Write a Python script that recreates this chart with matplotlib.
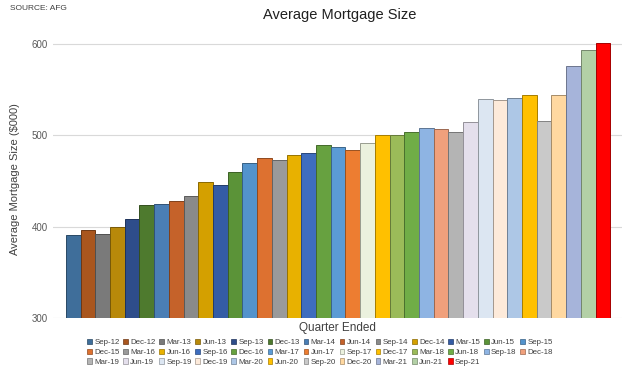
import matplotlib.pyplot as plt
import matplotlib.colors as mcolors
import numpy as np

plt.rcParams['font.family'] = ['Liberation Sans', 'DejaVu Sans']

quarters = ['Sep-12', 'Dec-12', 'Mar-13', 'Jun-13', 'Sep-13', 'Dec-13', 'Mar-14', 'Jun-14',
            'Sep-14', 'Dec-14', 'Mar-15', 'Jun-15', 'Sep-15', 'Dec-15', 'Mar-16', 'Jun-16',
            'Sep-16', 'Dec-16', 'Mar-17', 'Jun-17', 'Sep-17', 'Dec-17', 'Mar-18', 'Jun-18',
            'Sep-18', 'Dec-18', 'Mar-19', 'Jun-19', 'Sep-19', 'Dec-19', 'Mar-20', 'Jun-20',
            'Sep-20', 'Dec-20', 'Mar-21', 'Jun-21', 'Sep-21']
# average mortgage size in $000
avg_size = [391, 396, 392, 400, 408, 424, 425, 428, 433, 449, 446, 460, 470, 475, 473, 478,
            480, 489, 487, 484, 491, 500, 500, 503, 508, 507, 504, 514, 540, 539, 541, 544,
            515, 544, 576, 593, 601]
bar_colors = ['#3F6E9A', '#A9561E', '#7A7A7A', '#B8890A', '#2E4D8A', '#4E7A2E', '#4A7EB5',
              '#C5622A', '#8A8A8A', '#D4A000', '#345CA5', '#5B9338', '#5393CC', '#DD7130',
              '#9A9A9A', '#E8B100', '#3E6DBE', '#67A140', '#5B9BD5', '#ED7D31', '#EBF1DE',
              '#FFC000', '#9BBB59', '#70AD47', '#8EB4E3', '#F0A07C', '#B4B4B4', '#E4DFEC',
              '#DCE6F2', '#FDEADA', '#ADC7E6', '#FFC000', '#C9C9C9', '#FFD8A0', '#A6B4DA',
              '#B3D0A6', '#FF0000']

edge_colors = [np.array(mcolors.to_rgb(c)) * 0.65 for c in bar_colors]

fig = plt.figure(figsize=(6.4, 3.68), dpi=100)
ax = fig.add_axes([53 / 640, 1 - 318 / 368, 569 / 640, 277 / 368])

x = np.arange(len(quarters))
ax.bar(x, np.array(avg_size) - 300, bottom=300, width=1.0, color=bar_colors,
       edgecolor=edge_colors, linewidth=0.7, zorder=3)

ax.set_xlim(-1.38, 37.3)
ax.set_ylim(300, 603)
ax.set_yticks([300, 400, 500, 600])
ax.grid(axis='y', color='#D9D9D9', linewidth=0.8, zorder=0)
for s in ax.spines.values():
    s.set_visible(False)
ax.set_xticks([])
ax.tick_params(axis='y', length=0, labelsize=7, labelcolor='#595959', pad=4)
ax.set_ylabel('Average Mortgage Size ($000)', fontsize=8, color='#404040', labelpad=8)
ax.set_xlabel('Quarter Ended', fontsize=8.5, color='#404040', labelpad=3)

fig.text(340 / 640, 1 - 15 / 368, 'Average Mortgage Size', fontsize=10.5, ha='center',
         va='center', color='#202020')
fig.text(10 / 640, 1 - 8 / 368, 'SOURCE: AFG', fontsize=6, ha='left', va='center',
         color='#404040')

# legend filled row by row (matplotlib fills column by column)
ncol = 13
order = [r * ncol + c for c in range(ncol) for r in range(3) if r * ncol + c < len(quarters)]
handles = [plt.Rectangle((0, 0), 1, 1, facecolor=bar_colors[i], edgecolor=edge_colors[i],
                         linewidth=0.5) for i in order]
labels = [quarters[i] for i in order]
fig.legend(handles, labels, ncol=ncol, loc='upper center', bbox_to_anchor=(320 / 640, 1 - 332 / 368),
           frameon=False, fontsize=5.7, handlelength=0.6, handleheight=0.6, handletextpad=0.3,
           columnspacing=0.45, labelspacing=0.3, labelcolor='#404040')

fig.savefig('out.png', dpi=100)
